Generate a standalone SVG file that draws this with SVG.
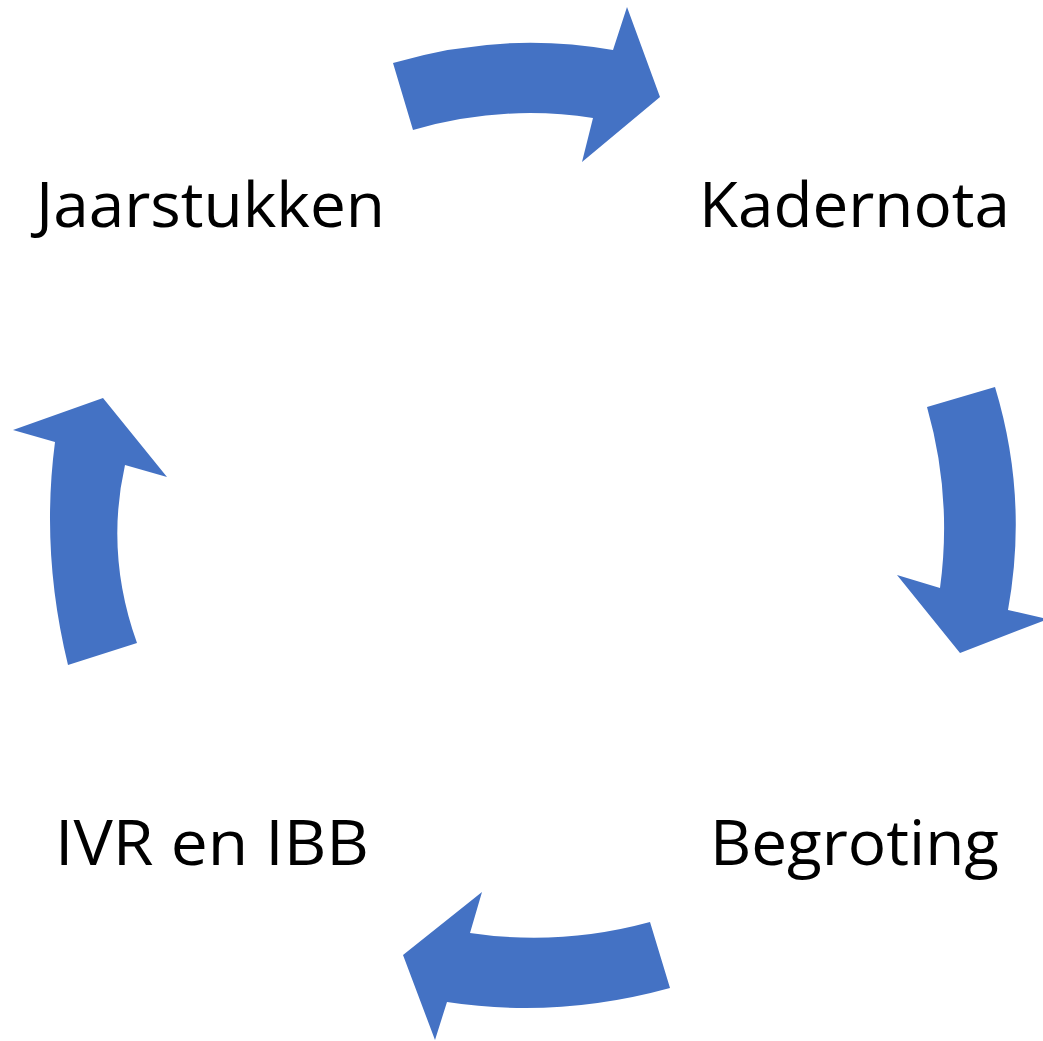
<svg xmlns="http://www.w3.org/2000/svg" width="1043" height="1041" viewBox="0 0 1043 1041">
<style>
.arrow{fill:#4472C4;stroke:none}
.lbl{font-family:"Open Sans","Liberation Sans",sans-serif;font-size:62px;fill:#000}
</style>
<rect width="1043" height="1041" fill="#fff"/>
<g id="connectors">
<path id="arrow-top" class="arrow" d="M393,63 Q503,30.5 613,50 L627,7 L660,97 L582,162 L593,118 Q503,104 413,130 Z"/>
<path id="arrow-right" class="arrow" d="M927,407 L995,387 Q1028.5,497.5 1008,610 L1048,619 L960,653 L897,575 L940,588 Q952.5,496.5 927,407 Z"/>
<path id="arrow-bottom" class="arrow" d="M650,922 Q560,946.5 470,933 L482,892 L403,955 L435,1040 L447,1002 Q557.5,1019 670,988 Z"/>
<path id="arrow-left" class="arrow" d="M68,665 Q40.5,552.5 55,442 L13,430 L103,398 L167,477 L125,465 Q105,554 137,643 Z"/>
</g>
<g id="node-jaarstukken"><text class="lbl" x="36" y="227" textLength="349" lengthAdjust="spacingAndGlyphs">Jaarstukken</text></g>
<g id="node-kadernota"><text class="lbl" x="699" y="227" textLength="311" lengthAdjust="spacingAndGlyphs">Kadernota</text></g>
<g id="node-ivr"><text class="lbl" x="55" y="865" textLength="314" lengthAdjust="spacingAndGlyphs">IVR en IBB</text></g>
<g id="node-begroting"><text class="lbl" x="710" y="865" textLength="289" lengthAdjust="spacingAndGlyphs">Begroting</text></g>
</svg>
